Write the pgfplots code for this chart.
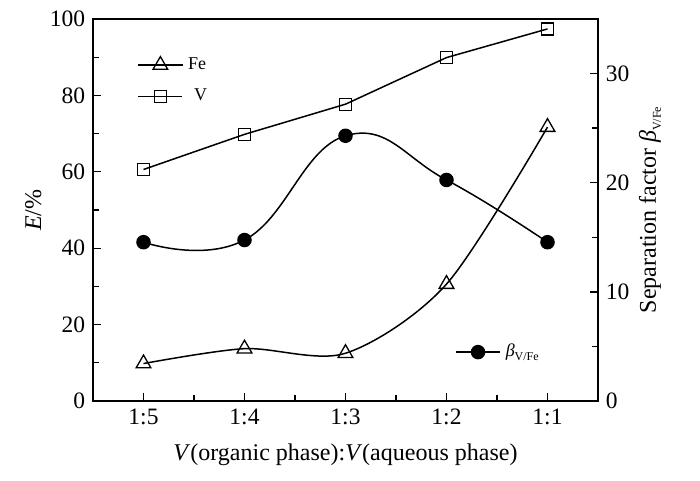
\documentclass[border=0pt]{standalone}
\usepackage{fontspec}
\setmainfont{Liberation Serif}
\usepackage{pgfplots}
\pgfplotsset{compat=1.18}

\pgfplotstableread{
x  Fe    V     beta
0  9.8   60.6  14.55
1  13.7  69.8  14.75
2  12.5  77.7  24.3
3  30.6  89.9  20.25
4  71.7  97.4  14.55
}\datatable

\begin{document}
\fontsize{23bp}{27bp}\selectfont
\begin{tikzpicture}
\pgfplotsset{
  every axis/.append style={
    scale only axis, width=505bp, height=382bp,
    xmin=-0.5, xmax=4.5,
    axis line style={line width=1.5bp},
    every tick/.style={line width=1.3bp, black},
    major tick length=8bp, minor tick length=6bp,
    tick align=inside,
    /pgf/number format/assume math mode=true,
    tick label style={font=\fontsize{23.5bp}{27bp}\selectfont},
    label style={font=\fontsize{24bp}{28bp}\selectfont},
    legend style={draw=none, fill=none, font=\fontsize{18bp}{21bp}\selectfont,
      row sep=12bp, inner sep=0pt, cells={anchor=west}},
    legend image code/.code={
      \draw[mark repeat=2, mark phase=2, #1] plot coordinates {(0bp,0bp) (22bp,0bp) (44bp,0bp)};},
  },
  ln/.style={black, line width=1.5bp},
}
\begin{axis}[name=ax,
  ymin=0, ymax=100,
  ytick={0,20,...,100}, minor ytick={10,30,...,90},
  xtick={0,...,4}, xticklabels={1:5,1:4,1:3,1:2,1:1},
  minor xtick={0.5,1.5,2.5,3.5},
  xtick pos=bottom, ytick pos=left,
  xlabel={\textit{V}(organic phase):\textit{V}(aqueous phase)},
  xlabel style={yshift=-4bp},
  ylabel={\textit{E}/\%},
  ylabel style={yshift=-7bp},
  legend style={at={(0.088,0.905)}, anchor=north west},
]
\addplot[ln, smooth, mark=triangle, mark size=8.5bp, mark options={fill=white, line width=1.3bp}]
  table[x=x, y=Fe] {\datatable};
\addlegendentry{\,Fe}
\addplot[ln, mark=square, mark size=6bp, mark options={fill=white, line width=1.3bp}]
  table[x=x, y=V] {\datatable};
\addlegendentry{\ \ V}
\end{axis}
\begin{axis}[
  ymin=0, ymax=35,
  ytick={0,10,20,30}, minor ytick={5,15,25},
  axis y line*=right, axis x line=none,
  ylabel={Separation factor \textit{β}\raisebox{-0.45ex}{\fontsize{12bp}{13bp}\selectfont V/Fe}},
  ylabel style={yshift=6bp},
  legend style={at={(0.717,0.128)}, anchor=west},
]
\addplot[ln, smooth, tension=0.75, mark=*, mark size=6.5bp, mark options={fill=black}]
  table[x=x, y=beta] {\datatable};
\addlegendentry{\,\textit{β}\raisebox{-0.45ex}{\fontsize{12bp}{13bp}\selectfont V/Fe}}
\end{axis}
\pgfresetboundingbox
\path[use as bounding box] ([shift={(-93bp,-80bp)}]ax.south west) rectangle ([shift={(102bp,19bp)}]ax.north east);
\end{tikzpicture}
\end{document}
